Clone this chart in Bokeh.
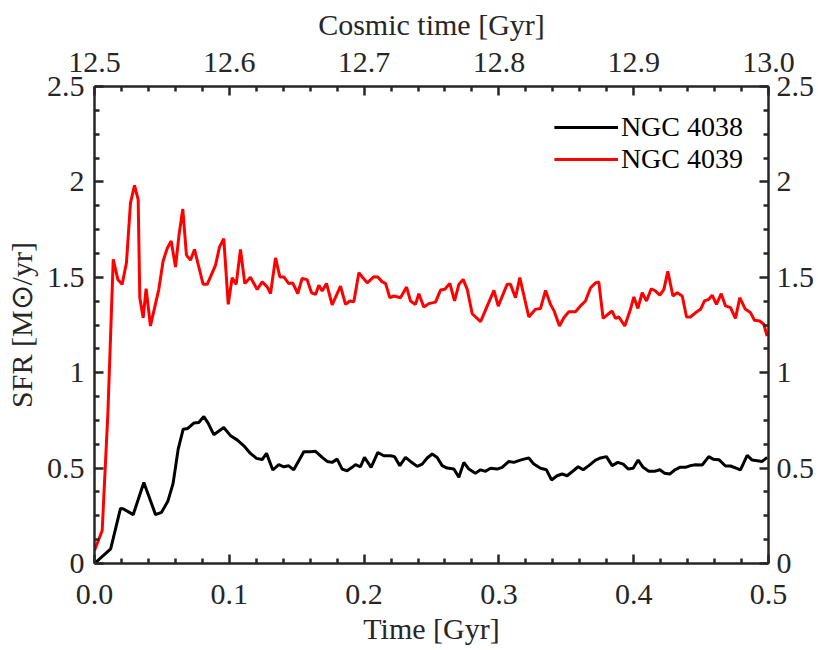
from bokeh.plotting import figure
from bokeh.models import LinearAxis, Range1d, FixedTicker, NumeralTickFormatter
from bokeh.embed import file_html
from bokeh.resources import INLINE

# ---------------- data ----------------
time_4038 = [0.0, 0.012, 0.0193, 0.0215, 0.0287, 0.0366, 0.0453, 0.0497, 0.0544, 0.0583,
             0.0621, 0.0658, 0.0692, 0.0737, 0.0774, 0.0811, 0.0843, 0.0885, 0.0959, 0.1009,
             0.1058, 0.1108, 0.1157, 0.1202, 0.1244, 0.1276, 0.1323, 0.1367, 0.1405, 0.1441,
             0.1478, 0.1553, 0.1602, 0.1640, 0.1689, 0.1726, 0.1763, 0.1800, 0.1837, 0.1874,
             0.1911, 0.1936, 0.1973, 0.2003, 0.2052, 0.2102, 0.2146, 0.2196, 0.2226, 0.2265,
             0.2307, 0.2344, 0.2394, 0.2431, 0.2468, 0.2505, 0.2542, 0.2579, 0.2616, 0.2666,
             0.2703, 0.2740, 0.2777, 0.2826, 0.2864, 0.2901, 0.2938, 0.2987, 0.3024, 0.3074,
             0.3111, 0.3148, 0.3185, 0.3222, 0.3259, 0.3309, 0.3353, 0.3390, 0.3432, 0.3469,
             0.3506, 0.3543, 0.3588, 0.3625, 0.3667, 0.3717, 0.3754, 0.3798, 0.3840, 0.3882,
             0.3922, 0.3959, 0.3996, 0.4033, 0.4070, 0.4112, 0.4154, 0.4194, 0.4229, 0.4268,
             0.4305, 0.4342, 0.4384, 0.4421, 0.4458, 0.4508, 0.4557, 0.4589, 0.4632, 0.4681,
             0.4718, 0.4755, 0.4792, 0.4842, 0.4879, 0.4916, 0.4953, 0.4990]
sfr_4038 = [0.0, 0.077, 0.289, 0.286, 0.256, 0.425, 0.256, 0.268, 0.326, 0.420,
            0.600, 0.704, 0.708, 0.736, 0.739, 0.770, 0.736, 0.675, 0.713, 0.670,
            0.648, 0.617, 0.577, 0.551, 0.545, 0.577, 0.490, 0.518, 0.507, 0.512,
            0.491, 0.586, 0.586, 0.588, 0.556, 0.535, 0.530, 0.547, 0.495, 0.486,
            0.504, 0.518, 0.507, 0.556, 0.504, 0.582, 0.565, 0.565, 0.560, 0.513,
            0.556, 0.535, 0.509, 0.521, 0.553, 0.574, 0.556, 0.513, 0.500, 0.495,
            0.452, 0.530, 0.495, 0.473, 0.491, 0.483, 0.499, 0.495, 0.504, 0.535,
            0.530, 0.539, 0.547, 0.553, 0.521, 0.499, 0.491, 0.438, 0.460, 0.469,
            0.460, 0.481, 0.507, 0.491, 0.513, 0.542, 0.553, 0.560, 0.513, 0.530,
            0.521, 0.495, 0.499, 0.542, 0.504, 0.483, 0.483, 0.491, 0.473, 0.469,
            0.491, 0.504, 0.504, 0.513, 0.518, 0.516, 0.560, 0.547, 0.544, 0.511,
            0.511, 0.501, 0.491, 0.567, 0.542, 0.539, 0.535, 0.556]

time_4039 = [0.0, 0.0057, 0.0099, 0.0139, 0.0173, 0.0205, 0.0237, 0.0267, 0.0297, 0.0324,
             0.0336, 0.0361, 0.0383, 0.0415, 0.0477, 0.0509, 0.0539, 0.0569, 0.0601, 0.0626,
             0.0655, 0.0682, 0.0712, 0.0742, 0.0774, 0.0806, 0.0836, 0.0898, 0.0927, 0.0959,
             0.0992, 0.1021, 0.1051, 0.1083, 0.1115, 0.1157, 0.1207, 0.1244, 0.1281, 0.1306,
             0.1343, 0.1375, 0.1405, 0.1441, 0.1471, 0.1508, 0.1540, 0.1577, 0.1610, 0.1640,
             0.1664, 0.1689, 0.1721, 0.1763, 0.1825, 0.1862, 0.1894, 0.1924, 0.1961, 0.2023,
             0.2072, 0.2102, 0.2134, 0.2159, 0.2191, 0.2221, 0.2270, 0.2315, 0.2344, 0.2381,
             0.2406, 0.2443, 0.2480, 0.2530, 0.2567, 0.2599, 0.2636, 0.2671, 0.2703, 0.2735,
             0.2765, 0.2802, 0.2864, 0.2963, 0.2995, 0.3061, 0.3086, 0.3123, 0.3155, 0.3222,
             0.3271, 0.3309, 0.3346, 0.3383, 0.3412, 0.3449, 0.3482, 0.3519, 0.3568, 0.3605,
             0.3642, 0.3680, 0.3717, 0.3741, 0.3773, 0.3808, 0.3840, 0.3865, 0.3890, 0.3934,
             0.3976, 0.4001, 0.4031, 0.4063, 0.4095, 0.4130, 0.4162, 0.4194, 0.4224, 0.4253,
             0.4291, 0.4323, 0.4360, 0.4392, 0.4421, 0.4458, 0.4496, 0.4525, 0.4557, 0.4582,
             0.4614, 0.4649, 0.4681, 0.4718, 0.4755, 0.4787, 0.4829, 0.4866, 0.4896, 0.4935,
             0.4965, 0.4990]
sfr_4039 = [0.068, 0.173, 0.783, 1.594, 1.489, 1.463, 1.576, 1.890, 1.982, 1.907,
            1.393, 1.288, 1.441, 1.245, 1.437, 1.585, 1.651, 1.690, 1.554, 1.716,
            1.858, 1.616, 1.590, 1.646, 1.554, 1.463, 1.463, 1.564, 1.658, 1.703,
            1.358, 1.498, 1.463, 1.646, 1.467, 1.500, 1.436, 1.476, 1.450, 1.415,
            1.602, 1.502, 1.502, 1.467, 1.470, 1.415, 1.494, 1.488, 1.419, 1.410,
            1.458, 1.428, 1.468, 1.355, 1.454, 1.358, 1.376, 1.372, 1.524, 1.471,
            1.503, 1.501, 1.476, 1.468, 1.393, 1.402, 1.393, 1.449, 1.376, 1.358,
            1.414, 1.344, 1.362, 1.370, 1.433, 1.437, 1.468, 1.376, 1.463, 1.489,
            1.437, 1.309, 1.268, 1.431, 1.349, 1.463, 1.463, 1.393, 1.498, 1.292,
            1.332, 1.337, 1.431, 1.358, 1.320, 1.245, 1.288, 1.320, 1.320, 1.350,
            1.376, 1.445, 1.471, 1.476, 1.285, 1.306, 1.323, 1.285, 1.292, 1.245,
            1.332, 1.397, 1.337, 1.419, 1.376, 1.440, 1.428, 1.407, 1.437, 1.532,
            1.402, 1.419, 1.402, 1.292, 1.292, 1.314, 1.332, 1.376, 1.384, 1.407,
            1.358, 1.414, 1.350, 1.341, 1.285, 1.393, 1.332, 1.315, 1.275, 1.271,
            1.254, 1.192]

x_ticks = [0.0, 0.1, 0.2, 0.3, 0.4, 0.5]
x_tick_labels = ["0.0", "0.1", "0.2", "0.3", "0.4", "0.5"]
x_minor = [0.02, 0.04, 0.06, 0.08, 0.12, 0.14, 0.16, 0.18, 0.22, 0.24, 0.26, 0.28,
           0.32, 0.34, 0.36, 0.38, 0.42, 0.44, 0.46, 0.48]
cosmic_ticks = [12.5, 12.6, 12.7, 12.8, 12.9, 13.0]
cosmic_tick_labels = ["12.5", "12.6", "12.7", "12.8", "12.9", "13.0"]
cosmic_minor = [12.52, 12.54, 12.56, 12.58, 12.62, 12.64, 12.66, 12.68, 12.72, 12.74,
                12.76, 12.78, 12.82, 12.84, 12.86, 12.88, 12.92, 12.94, 12.96, 12.98]
y_ticks = [0.0, 0.5, 1.0, 1.5, 2.0, 2.5]
y_tick_labels = ["0", "0.5", "1", "1.5", "2", "2.5"]
y_minor = [0.125, 0.25, 0.375, 0.625, 0.75, 0.875, 1.125, 1.25, 1.375, 1.625, 1.75,
           1.875, 2.125, 2.25, 2.375]

FONT = "Liberation Serif"
AX = "#262626"

p = figure(width=830, height=650, output_backend="svg", toolbar_location=None,
           x_range=Range1d(0, 0.5), y_range=Range1d(0, 2.5),
           min_border_left=94, min_border_right=62, min_border_top=86, min_border_bottom=87)
p.extra_x_ranges = {"cosmic": Range1d(12.5, 13.0)}
p.xgrid.visible = False
p.ygrid.visible = False
p.outline_line_color = None
p.background_fill_color = "white"
p.border_fill_color = "white"

bottom = p.below[0]
left = p.left[0]
bottom.axis_label = "Time [Gyr]"
left.axis_label = "SFR [M\u2299/yr]"

top = LinearAxis(x_range_name="cosmic", axis_label="Cosmic time [Gyr]")
p.add_layout(top, "above")
right = LinearAxis()
p.add_layout(right, "right")


def style(ax, ticks, minor, labels, fmt):
    ax.ticker = FixedTicker(ticks=ticks, minor_ticks=minor)
    ax.formatter = NumeralTickFormatter(format=fmt)
    ax.major_label_overrides = {t: l for t, l in zip(ticks, labels)}
    ax.axis_line_color = AX
    ax.axis_line_width = 2.5
    ax.major_tick_line_color = AX
    ax.minor_tick_line_color = AX
    ax.major_tick_line_width = 2.5
    ax.minor_tick_line_width = 2.5
    ax.major_tick_in = 9
    ax.major_tick_out = 0
    ax.minor_tick_in = 5
    ax.minor_tick_out = 0
    ax.major_label_text_font = FONT
    ax.major_label_text_font_size = "30px"
    ax.major_label_text_color = AX
    ax.axis_label_text_font = FONT
    ax.axis_label_text_font_size = "30px"
    ax.axis_label_text_font_style = "normal"
    ax.axis_label_text_color = AX


style(bottom, x_ticks, x_minor, x_tick_labels, "0.0")
style(top, cosmic_ticks, cosmic_minor, cosmic_tick_labels, "0.0")
style(left, y_ticks, y_minor, y_tick_labels, "0.[0]")
style(right, y_ticks, y_minor, y_tick_labels, "0.[0]")

bottom.major_label_standoff = 21
bottom.axis_label_standoff = 5
top.major_label_standoff = 15
top.axis_label_standoff = 9
left.major_label_standoff = 10
left.axis_label_standoff = 6
right.major_label_standoff = 8

p.line(time_4038, sfr_4038, line_color="#000000", line_width=3, legend_label="NGC 4038")
p.line(time_4039, sfr_4039, line_color="#FF0000", line_width=3, legend_label="NGC 4039")

lg = p.legend[0]
lg.location = "top_right"
lg.border_line_color = None
lg.background_fill_alpha = 0
lg.label_text_font = FONT
lg.label_text_font_size = "28px"
lg.label_text_color = "#000000"
lg.glyph_width = 64
lg.label_standoff = 3
lg.spacing = 0
lg.padding = 10
lg.margin = 25

open("out.html", "w").write(file_html(p, INLINE))
